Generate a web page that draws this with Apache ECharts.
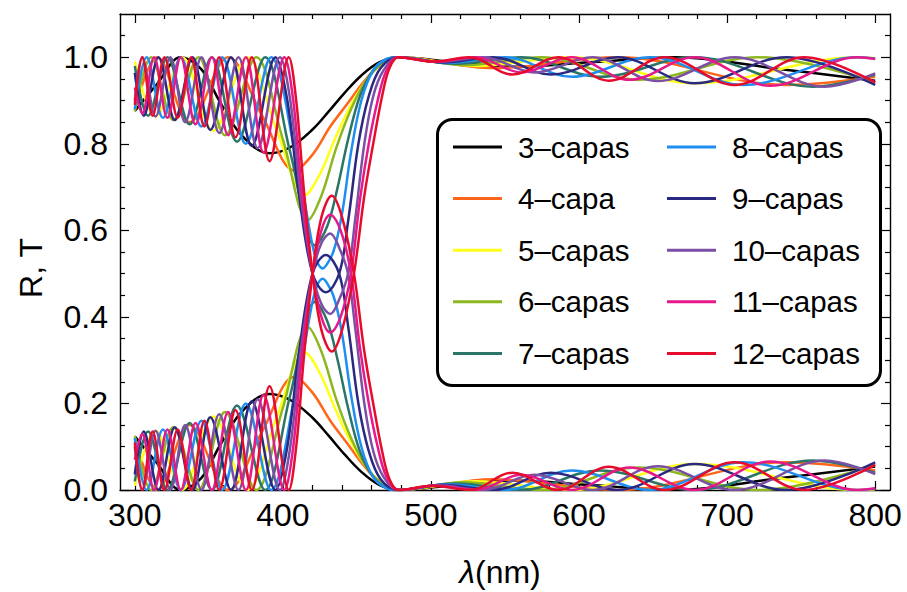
<!DOCTYPE html>
<html><head><meta charset="utf-8">
<script src="https://cdn.jsdelivr.net/npm/echarts@6.0.0/dist/echarts.min.js"></script>
<style>html,body{margin:0;padding:0;background:#fff}#c{width:907px;height:592px}</style>
</head><body><div id="c"></div>
<script>
const names = ['3–capas','4–capa','5–capas','6–capas','7–capas','8–capas','9–capas','10–capas','11–capas','12–capas'];
const colors = ['#000000','#ff6619','#ffff1a','#8db71f','#2b7566','#1f8ef1','#2b2882','#7b4fa3','#e6198a','#e60c2e'];

const x3 = [300,315,331,345,357,372,391,405,420,431,442,453,465,478,515,555,610,665,735,800];
const lo3 = [.124,.062,0,.028,.1,.18,.222,.208,.167,.125,.081,.042,.012,0,.011,.022,.011,0,.027,.054];
const hi3 = [.876,.938,1,.972,.9,.82,.778,.792,.833,.875,.919,.958,.988,1,.989,.978,.989,1,.973,.946];

const x4 = [300,315,337,363,386,408,420,432,443,455,466,478,542,626,740,800];
const lo4 = [.12,0,.15,0,.135,.262,.225,.16,.11,.055,.016,0,.025,0,.064,.045];
const hi4 = [.88,1,.85,1,.865,.738,.775,.84,.89,.945,.984,1,.975,1,.936,.955];

const x5 = [300,314,332,353,376,396,415,425,435,446,457,467,478,530,595,678,788,800];
const lo5 = [.01,.137,0,.17,0,.17,.318,.27,.19,.11,.05,.015,0,.02,0,.06,0,.002];
const hi5 = [.99,.863,1,.83,1,.83,.682,.73,.81,.89,.95,.985,1,.98,1,.94,1,.998];

const x6 = [300,311,326,343,361,382,400,417,426,436,446,456,467,478,522,575,640,721,800];
const lo6 = [.125,0,.145,0,.18,0,.19,.376,.32,.21,.12,.055,.015,0,.018,0,.052,0,.058];
const hi6 = [.875,1,.855,1,.82,1,.81,.624,.68,.79,.88,.945,.985,1,.982,1,.948,1,.942];

const x7 = [300,309,322,337,352,369,388,405,422,430,437,444,452,461,470,478,516,561,614,678,758,800];
const lo7 = [.02,.135,0,.155,0,.195,0,.22,.435,.39,.3,.19,.09,.03,.005,0,.015,0,.045,0,.068,.04];
const hi7 = [.98,.865,1,.845,1,.805,1,.78,.565,.61,.7,.81,.91,.97,.995,1,.985,1,.955,1,.932,.96];

const x8 = [300,308,319,331,345,359,375,392,410,427,434,440,446,453,461,470,478,511,550,595,648,711,788,800];
const lo8 = [.12,0,.14,0,.16,0,.2,0,.25,.488,.45,.36,.22,.1,.03,.004,0,.013,0,.045,0,.064,0,.003];
const hi8 = [.88,1,.86,1,.84,1,.8,1,.75,.512,.55,.64,.78,.9,.97,.996,1,.987,1,.955,1,.936,1,.997];

const x9 = [300,306,316,327,339,351,365,379,395,403,411,420,429,438,444,451,458,466,478,508,542,581,626,678,740,800];
const lo9 = [.036,.135,0,.145,0,.168,0,.205,0,.1,.32,.5,.543,.5,.38,.2,.09,.025,0,.012,0,.04,0,.06,0,.064];
const hi9 = [.964,.865,1,.855,1,.832,1,.795,1,.9,.68,.5,.457,.5,.62,.8,.91,.975,1,.988,1,.96,1,.94,1,.936];

const x10 = [300,305,314,324,334,345,357,370,383,398,405,412,420,426,432,438,444,449,455,461,468,478,505,535,570,609,653,705,766,800];
const lo10 = [.1,0,.137,0,.15,0,.175,0,.21,0,.1,.32,.5,.57,.593,.56,.5,.37,.2,.09,.03,0,.011,0,.035,0,.055,0,.068,.037];
const hi10 = [.9,1,.863,1,.85,1,.825,1,.79,1,.9,.68,.5,.43,.407,.44,.5,.63,.8,.91,.97,1,.989,1,.965,1,.945,1,.932,.963];

const x11 = [300,305,313,322,331,341,352,363,375,387,401,407,413,420,426,432,439,446,452,458,464,470,478,503,530,561,595,634,678,729,788,800];
const lo11 = [.07,.13,0,.14,0,.155,0,.18,0,.22,0,.1,.32,.5,.6,.636,.6,.5,.33,.2,.1,.03,0,.01,0,.035,0,.052,0,.066,0,.004];
const hi11 = [.93,.87,1,.86,1,.845,1,.82,1,.78,1,.9,.68,.5,.4,.364,.4,.5,.67,.8,.9,.97,1,.99,1,.965,1,.948,1,.934,1,.996];

const x12 = [300,305,312,320,329,338,347,357,368,379,391,404,409,414,420,426,433,440,448,455,461,467,472,478,501,526,555,586,620,658,705,752,800];
const lo12 = [.11,0,.135,0,.14,0,.16,0,.185,0,.24,0,.1,.3,.5,.63,.68,.63,.5,.32,.2,.09,.025,0,.01,0,.04,0,.054,0,.064,0,.058];
const hi12 = [.89,1,.865,1,.86,1,.84,1,.815,1,.76,1,.9,.7,.5,.37,.32,.37,.5,.68,.8,.91,.975,1,.99,1,.96,1,.946,1,.936,1,.942];

const xMajor = [300,400,500,600,700,800];
const xMinor = [320,340,360,380,420,440,460,480,520,540,560,580,620,640,660,680,720,740,760,780];
const yMajor = [0,0.2,0.4,0.6,0.8,1.0];
const yMinor = [0.05,0.1,0.15,0.25,0.3,0.35,0.45,0.5,0.55,0.65,0.7,0.75,0.85,0.9,0.95,1.05];

const curves = [[x3,hi3,lo3],[x4,hi4,lo4],[x5,hi5,lo5],[x6,hi6,lo6],[x7,hi7,lo7],[x8,hi8,lo8],[x9,hi9,lo9],[x10,hi10,lo10],[x11,hi11,lo11],[x12,hi12,lo12]];

const FONT = '"Liberation Sans", Arial, sans-serif';
const zip = (xs, ys) => xs.map((x, i) => [x, ys[i]]);
const series = [];
curves.forEach((c, i) => {
  [c[1], c[2]].forEach(ys => {
    series.push({
      type: 'line', name: names[i], data: zip(c[0], ys),
      xAxisIndex: 0, yAxisIndex: 0,
      showSymbol: false, symbol: 'none', smooth: 0.36, clip: true,
      color: colors[i],
      lineStyle: { color: colors[i], width: 2.5 },
      emphasis: { disabled: true }, silent: true
    });
  });
});

const tickStyle = { color: '#000', width: 1.2 };
function xAx(pos, custom, len, showLine, showLabel) {
  return {
    type: 'value', min: 290, max: 810, position: pos,
    axisLine: { show: showLine, onZero: false, lineStyle: { color: '#000', width: 1.4 } },
    axisTick: { show: true, inside: true, length: len, customValues: custom, lineStyle: tickStyle },
    axisLabel: showLabel ? { show: true, customValues: custom, fontSize: 32, color: '#000', fontFamily: FONT, margin: 9 } : { show: false },
    splitLine: { show: false }
  };
}
function yAx(pos, custom, len, showLine, showLabel) {
  return {
    type: 'value', min: 0, max: 1.1, position: pos,
    axisLine: { show: showLine, onZero: false, lineStyle: { color: '#000', width: 1.4 } },
    axisTick: { show: true, inside: true, length: len, customValues: custom, lineStyle: tickStyle },
    axisLabel: showLabel ? { show: true, customValues: custom, fontSize: 32, color: '#000', fontFamily: FONT, margin: 12, formatter: v => v.toFixed(1) } : { show: false },
    splitLine: { show: false }
  };
}

const legendCommon = {
  orient: 'vertical', icon: 'rect', itemWidth: 49, itemHeight: 3, itemGap: 21.6,
  padding: 0, selectedMode: false, z: 5,
  textStyle: { fontSize: 29.5, fontFamily: FONT, color: '#000', lineHeight: 30, padding: [0, 0, 0, 11] }
};

const chart = echarts.init(document.getElementById('c'), null, { renderer: 'svg' });
chart.setOption({
  animation: false,
  backgroundColor: '#fff',
  grid: { left: 120, right: 17, top: 14, bottom: 102, containLabel: false },
  xAxis: [xAx('bottom', xMajor, 9, true, true), xAx('bottom', xMinor, 5, false, false), xAx('top', xMajor, 9, true, false), xAx('top', xMinor, 5, false, false)],
  yAxis: [yAx('left', yMajor, 9, true, true), yAx('left', yMinor, 5, false, false), yAx('right', yMajor, 9, true, false), yAx('right', yMinor, 5, false, false)],
  legend: [
    Object.assign({}, legendCommon, { data: names.slice(0, 5), left: 453, top: 132 }),
    Object.assign({}, legendCommon, { data: names.slice(5), left: 667, top: 132 })
  ],
  graphic: [
    { type: 'rect', z: 4, shape: { x: 437.5, y: 119.5, width: 443, height: 266, r: 15 }, style: { fill: '#fff', stroke: '#000', lineWidth: 3 } },
    { type: 'text', z: 5, x: 500, y: 572, style: { text: '{i|λ}(nm)', fontSize: 32, fontFamily: FONT, fill: '#000', align: 'center', verticalAlign: 'middle', rich: { i: { fontStyle: 'italic', fontSize: 32, fontFamily: FONT } } } },
    { type: 'text', z: 5, x: 31, y: 268, rotation: Math.PI / 2, style: { text: 'R, T', fontSize: 32, fontFamily: FONT, fill: '#000', align: 'center', verticalAlign: 'middle' } }
  ],
  series: series
});
</script>
</body></html>
